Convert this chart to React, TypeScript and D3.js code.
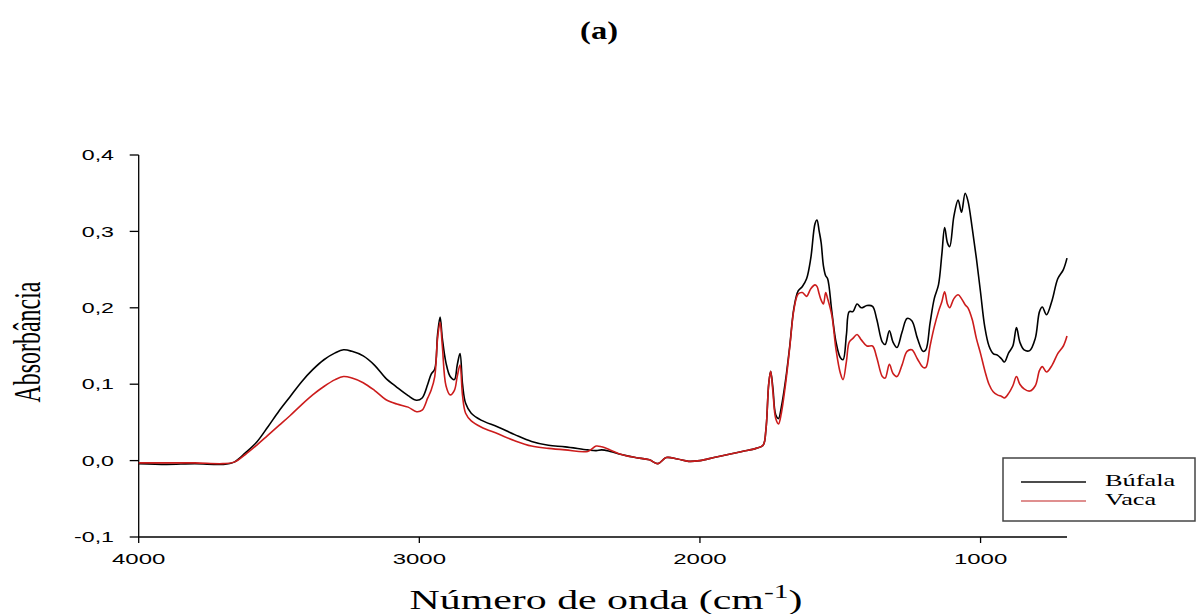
import * as d3 from 'd3';
import React, {useEffect, useRef} from "react";

// FTIR spectra, wavenumber (cm-1) vs absorbance
const wavenumbers = [
  4000, 3900, 3800, 3700, 3660, 3620, 3580, 3540, 3500, 3460, 3420, 3380, 3340, 3300, 3270, 3240,
  3200, 3160, 3120, 3080, 3040, 3010, 2990, 2970, 2958, 2945, 2935, 2926, 2918, 2905, 2890, 2875,
  2865, 2855, 2846, 2835, 2815, 2780, 2720, 2660, 2600, 2540, 2480, 2400, 2370, 2350, 2320, 2280,
  2230, 2180, 2150, 2120, 2080, 2040, 2000, 1950, 1900, 1850, 1800, 1775, 1765, 1755, 1748, 1740,
  1730, 1720, 1710, 1695, 1680, 1665, 1650, 1635, 1620, 1605, 1590, 1583, 1575, 1568, 1560, 1552,
  1545, 1530, 1515, 1500, 1490, 1478, 1468, 1455, 1440, 1425, 1405, 1385, 1370, 1350, 1340, 1325,
  1312, 1298, 1280, 1262, 1245, 1225, 1205, 1195, 1180, 1165, 1150, 1138, 1128, 1118, 1110, 1095,
  1080, 1068, 1055, 1045, 1030, 1015, 1000, 985, 970, 955, 940, 925, 915, 900, 885, 872,
  860, 845, 825, 805, 790, 780, 765, 745, 725, 705, 692
];

const bufala = [
  -0.004, -0.005, -0.004, -0.005, -0.002, 0.010, 0.024, 0.044, 0.065, 0.084, 0.103, 0.119, 0.132, 0.141, 0.145, 0.143,
  0.137, 0.125, 0.108, 0.096, 0.085, 0.079, 0.082, 0.100, 0.113, 0.120, 0.165, 0.188, 0.160, 0.128, 0.110, 0.106,
  0.125, 0.140, 0.100, 0.075, 0.062, 0.053, 0.044, 0.034, 0.025, 0.020, 0.018, 0.014, 0.013, 0.014, 0.012, 0.008,
  0.004, 0.001, -0.004, 0.004, 0.002, -0.001, 0.000, 0.004, 0.008, 0.012, 0.016, 0.020, 0.040, 0.100, 0.117, 0.095,
  0.060, 0.055, 0.070, 0.105, 0.150, 0.200, 0.222, 0.228, 0.238, 0.265, 0.310, 0.315, 0.300, 0.285, 0.255, 0.242,
  0.238, 0.195, 0.155, 0.135, 0.132, 0.165, 0.195, 0.195, 0.205, 0.200, 0.203, 0.202, 0.185, 0.155, 0.152, 0.170,
  0.155, 0.148, 0.168, 0.186, 0.183, 0.160, 0.143, 0.145, 0.180, 0.212, 0.230, 0.270, 0.305, 0.285, 0.280, 0.320,
  0.341, 0.325, 0.350, 0.340, 0.305, 0.265, 0.220, 0.175, 0.150, 0.140, 0.138, 0.133, 0.129, 0.141, 0.150, 0.174,
  0.155, 0.145, 0.144, 0.160, 0.195, 0.201, 0.191, 0.210, 0.238, 0.250, 0.265
];

const vaca = [
  -0.003, -0.003, -0.003, -0.004, -0.002, 0.008, 0.020, 0.033, 0.046, 0.059, 0.073, 0.086, 0.097, 0.106, 0.110, 0.108,
  0.102, 0.092, 0.080, 0.074, 0.070, 0.064, 0.066, 0.082, 0.092, 0.110, 0.160, 0.181, 0.150, 0.098, 0.086, 0.092,
  0.110, 0.125, 0.085, 0.062, 0.052, 0.044, 0.035, 0.026, 0.019, 0.016, 0.014, 0.012, 0.019, 0.018, 0.014, 0.008,
  0.004, 0.001, -0.004, 0.004, 0.002, -0.001, 0.000, 0.004, 0.008, 0.012, 0.016, 0.020, 0.040, 0.100, 0.117, 0.090,
  0.055, 0.048, 0.062, 0.100, 0.148, 0.198, 0.218, 0.220, 0.215, 0.225, 0.230, 0.228, 0.218, 0.210, 0.205, 0.220,
  0.212, 0.190, 0.145, 0.115, 0.106, 0.130, 0.155, 0.160, 0.165, 0.158, 0.150, 0.150, 0.135, 0.110, 0.108, 0.126,
  0.114, 0.110, 0.125, 0.143, 0.145, 0.133, 0.122, 0.122, 0.150, 0.175, 0.195, 0.208, 0.221, 0.205, 0.200, 0.212,
  0.217, 0.212, 0.204, 0.200, 0.185, 0.160, 0.140, 0.118, 0.100, 0.090, 0.086, 0.084, 0.082, 0.088, 0.098, 0.110,
  0.100, 0.094, 0.091, 0.098, 0.118, 0.123, 0.116, 0.125, 0.140, 0.150, 0.163
];

const xTicks = [4000, 3000, 2000, 1000];
const yTicks = [-0.1, 0.0, 0.1, 0.2, 0.3, 0.4];
const seriesNames = ["Búfala", "Vaca"];
const seriesColors = ["#000000", "#cc1c1c"];
const legendColors = ["#111111", "#d46a6a"];

// the original figure is stretched sideways, so the text is too
const STRETCH = 1.6;

export default function App() {
  const ref = useRef<SVGSVGElement>(null);

  useEffect(() => {
    const svg = d3.select(ref.current);
    svg.selectAll("*").remove();

    const x = d3.scaleLinear().domain([4000, 692]).range([138.7, 1067]);
    const y = d3.scaleLinear().domain([-0.1, 0.4]).range([537, 155]);
    const fmt = (v: number) => d3.format(".1f")(v).replace(".", ",").replace("−", "-");

    // title
    svg.append("text")
        .attr("transform", `translate(599,39) scale(1.3,1)`)
        .attr("text-anchor", "middle")
        .attr("font-family", "'Liberation Serif', serif")
        .attr("font-weight", "bold")
        .attr("font-size", 25)
        .text("(a)");

    // axes
    const axes = svg.append("g").attr("stroke", "#000").attr("stroke-width", 1.3);
    axes.append("line").attr("x1", x(4000)).attr("x2", x(4000)).attr("y1", y(0.4)).attr("y2", y(-0.1));
    axes.append("line").attr("x1", x(4000)).attr("x2", x(692)).attr("y1", y(-0.1)).attr("y2", y(-0.1));

    axes.selectAll(".ytick").data(yTicks).join("line")
        .attr("x1", x(4000) - 9).attr("x2", x(4000))
        .attr("y1", d => y(d)).attr("y2", d => y(d));
    axes.selectAll(".xtick").data(xTicks).join("line")
        .attr("x1", d => x(d)).attr("x2", d => x(d))
        .attr("y1", y(-0.1)).attr("y2", y(-0.1) + 6);

    svg.append("g").selectAll("text").data(yTicks).join("text")
        .attr("transform", d => `translate(114,${y(d)}) scale(${STRETCH},1)`)
        .attr("text-anchor", "end")
        .attr("dominant-baseline", "central")
        .attr("font-family", "'Liberation Sans', Arial, sans-serif")
        .attr("font-size", 14.5)
        .text(d => fmt(d));

    svg.append("g").selectAll("text").data(xTicks).join("text")
        .attr("transform", d => `translate(${x(d)},564) scale(${STRETCH},1)`)
        .attr("text-anchor", "middle")
        .attr("font-family", "'Liberation Sans', Arial, sans-serif")
        .attr("font-size", 15)
        .text(d => d);

    // axis titles
    const xt = svg.append("text")
        .attr("transform", `translate(606,609) scale(1.55,1)`)
        .attr("text-anchor", "middle")
        .attr("font-family", "'Liberation Serif', serif")
        .attr("font-size", 27);
    xt.append("tspan").text("Número de onda (cm");
    xt.append("tspan").attr("font-size", 19).attr("dy", -11).text("-1");
    xt.append("tspan").attr("dy", 11).text(")");

    svg.append("text")
        .attr("transform", `translate(40,342) rotate(-90) scale(0.63,1)`)
        .attr("text-anchor", "middle")
        .attr("font-family", "'Liberation Serif', serif")
        .attr("font-size", 38)
        .text("Absorbância");

    // spectra
    const line = d3.line<number>()
        .x((_, i) => x(wavenumbers[i]))
        .y(d => y(d))
        .curve(d3.curveCatmullRom.alpha(0.5));

    [bufala, vaca].forEach((s, i) => {
      svg.append("path")
          .attr("d", line(s))
          .attr("fill", "none")
          .attr("stroke", seriesColors[i])
          .attr("stroke-width", 1.6)
          .attr("stroke-linejoin", "round");
    });

    // legend
    const lg = svg.append("g");
    lg.append("rect")
        .attr("x", 1003).attr("y", 458).attr("width", 192).attr("height", 63)
        .attr("fill", "#fff").attr("stroke", "#444").attr("stroke-width", 1.5);
    seriesNames.forEach((name, i) => {
      const ly = 482 + i * 19;
      lg.append("line")
          .attr("x1", 1021).attr("x2", 1086).attr("y1", ly).attr("y2", ly)
          .attr("stroke", legendColors[i]).attr("stroke-width", 1.3);
      lg.append("text")
          .attr("transform", `translate(1105,${ly + 4}) scale(1.65,1)`)
          .attr("font-family", "'Liberation Serif', serif")
          .attr("font-size", 16)
          .text(name);
    });
  }, []);

  return (
      <svg ref={ref} width={1197} height={614}
           style={{position: "absolute", left: 0, top: 0, background: "#fff"}}/>
  );
}
